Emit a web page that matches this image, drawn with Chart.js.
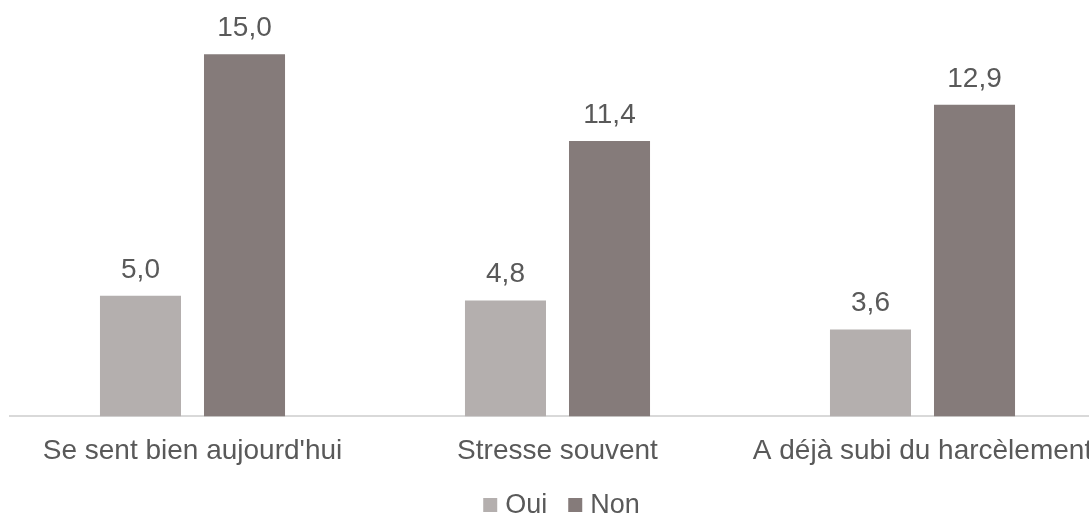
<!DOCTYPE html>
<html lang="fr">

<head>
  <meta charset="UTF-8" />
  <meta name="viewport" content="width=device-width, initial-scale=1.0" />
  <script src="https://cdn.jsdelivr.net/npm/chart.js@4.4.0/dist/chart.umd.min.js"></script>
  <style>
    html, body { margin: 0; padding: 0; background: #fff; overflow: hidden; }
    #wrap { width: 1115px; height: 515px; }
  </style>
</head>

<body>
  <div id="wrap">
    <canvas id="chart"></canvas>
  </div>

  <script>
    // chart data
    let categories = ["Se sent bien aujourd'hui", "Stresse souvent", "A déjà subi du harcèlement"];
    let seriesNames = ["Oui", "Non"];
    let oui = [5.0, 4.8, 3.6];
    let non = [15.0, 11.4, 12.9];
    let colors = ["#b4afae", "#857b7a"];

    let textColor = "#595959";
    let fontFamily = "'Liberation Sans', Arial, sans-serif";

    function formatValue(v) {
      return v.toFixed(1).replace('.', ',');
    }

    // labels on top of the bars
    let valueLabels = {
      id: 'valueLabels',
      afterDatasetsDraw(chart) {
        let ctx = chart.ctx;
        ctx.save();
        ctx.fillStyle = textColor;
        ctx.font = "28px " + fontFamily;
        ctx.textAlign = 'center';
        ctx.textBaseline = 'alphabetic';
        chart.data.datasets.forEach((ds, i) => {
          chart.getDatasetMeta(i).data.forEach((bar, j) => {
            ctx.fillText(formatValue(ds.data[j]), bar.x, bar.y - 18);
          });
        });
        ctx.restore();
      }
    };

    // legend drawn by hand: small square + text
    let bottomLegend = {
      id: 'bottomLegend',
      afterDraw(chart) {
        let ctx = chart.ctx;
        let area = chart.chartArea;
        ctx.save();
        ctx.font = "27px " + fontFamily;
        ctx.textBaseline = 'middle';
        let box = 14, gap = 8, between = 21;
        let widths = chart.data.datasets.map(ds => box + gap + ctx.measureText(ds.label).width);
        let total = widths.reduce((a, b) => a + b, 0) + between * (widths.length - 1);
        let x = (area.left + area.right) / 2 - total / 2 + 4;
        let y = 505;
        chart.data.datasets.forEach((ds, i) => {
          ctx.fillStyle = ds.backgroundColor;
          ctx.fillRect(x, y - box / 2, box, box);
          ctx.fillStyle = textColor;
          ctx.fillText(ds.label, x + box + gap, y + 1);
          x += widths[i] + between;
        });
        ctx.restore();
      }
    };

    let ctx = document.getElementById('chart').getContext('2d');
    let chart = new Chart(ctx, {
      type: 'bar',
      data: {
        labels: categories,
        datasets: [
          { label: seriesNames[0], data: oui, backgroundColor: colors[0] },
          { label: seriesNames[1], data: non, backgroundColor: colors[1] }
        ]
      },
      options: {
        responsive: true,
        maintainAspectRatio: false,
        animation: false,
        categoryPercentage: 0.57,
        barPercentage: 0.779,
        layout: { padding: { left: 10, right: 10, top: 30, bottom: 29 } },
        plugins: {
          legend: { display: false },
          tooltip: { enabled: false }
        },
        scales: {
          x: {
            grid: { display: false, drawTicks: false },
            border: { display: true, color: '#d9d9d9', width: 2 },
            ticks: {
              color: textColor,
              font: { family: fontFamily, size: 28 },
              padding: 18,
              maxRotation: 0,
              autoSkip: false
            }
          },
          y: {
            display: false,
            min: 0,
            max: 16
          }
        }
      },
      plugins: [valueLabels, bottomLegend]
    });
  </script>
</body>

</html>
